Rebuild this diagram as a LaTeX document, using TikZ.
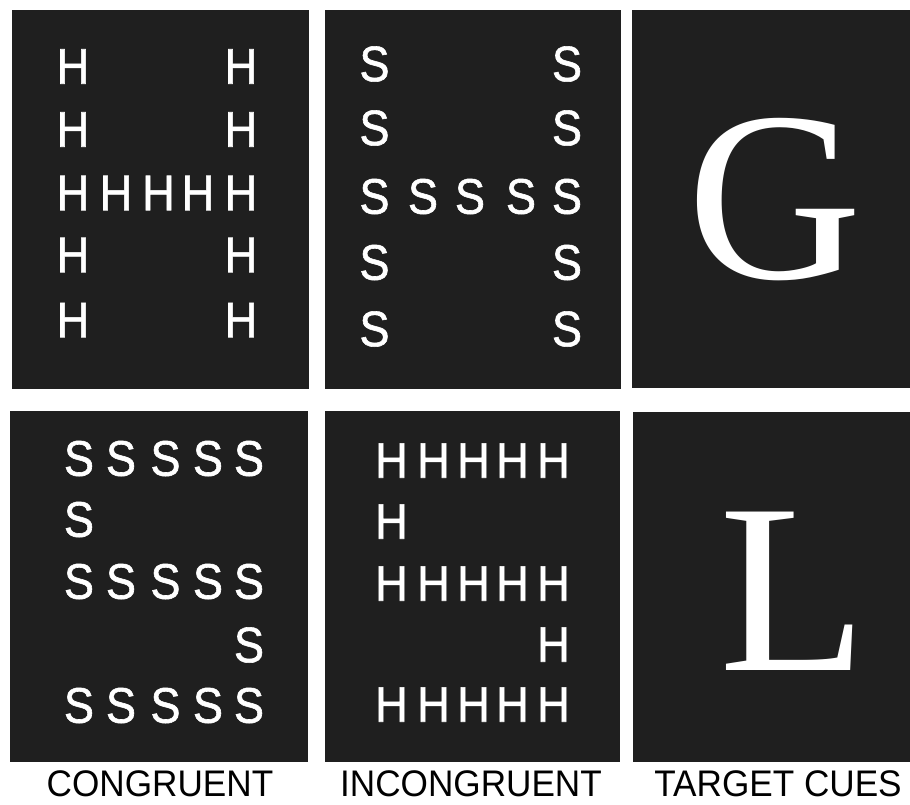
\documentclass[tikz,border=0pt]{standalone}
\usepackage{fontspec}
\setmainfont{Liberation Serif}
\newfontfamily\flankfont[FakeStretch=0.9,FakeBold=1.2]{Liberation Sans}
\newfontfamily\capfont[FakeStretch=0.95]{Liberation Sans}
\definecolor{panel}{HTML}{1F1F1F}
\begin{document}
\begin{tikzpicture}[x=1pt,y=-1pt,
  panelbox/.style={fill=panel,draw=none},
  flank/.style={text=white,font=\flankfont\fontsize{50}{50}\selectfont,inner sep=0pt,anchor=center},
  cue/.style={text=white,font=\fontsize{242}{242}\selectfont,inner sep=0pt,anchor=center},
  caption/.style={text=black,font=\capfont\fontsize{37}{37}\selectfont,inner sep=0pt,anchor=center}]
\useasboundingbox (0,0) rectangle (910,804);
\fill[white] (0,0) rectangle (910,804);
% panels
\fill[panelbox] (12,10) rectangle (309,389);
\fill[panelbox] (325,10) rectangle (621,389);
\fill[panelbox] (632,10) rectangle (910,388);
\fill[panelbox] (10,411) rectangle (308,762);
\fill[panelbox] (325,411) rectangle (620,762);
\fill[panelbox] (633,412) rectangle (910,762);
% congruent H made of H
\foreach \c/\r/\xx/\yy in {
  1/1/73/66.5, 1/2/73/129.5, 1/3/73/193, 1/4/73/255, 1/5/73/320,
  5/1/241/66.5, 5/2/241/129.5, 5/3/241/193, 5/4/241/255, 5/5/241/320,
  2/3/116/193, 3/3/158.5/193, 4/3/198/193}
  \node[flank] (ha-\c-\r) at (\xx,\yy) {H};
% incongruent H made of S
\foreach \c/\r/\xx/\yy in {
  1/1/374.5/64, 1/2/374.5/128, 1/3/374.5/196.5, 1/4/374.5/262.5, 1/5/374.5/329,
  5/1/567/64, 5/2/567/128, 5/3/567/196.5, 5/4/567/262.5, 5/5/567/329,
  2/3/423/196.5, 3/3/470/196.5, 4/3/521/196.5}
  \node[flank] (hs-\c-\r) at (\xx,\yy) {S};
% congruent S made of S
\foreach \c/\r/\xx/\yy in {
  1/1/79/458.5, 2/1/121/458.5, 3/1/165.5/458.5, 4/1/208/458.5, 5/1/249/458.5,
  1/2/79/519.5,
  1/3/79/581.5, 2/3/121/581.5, 3/3/165.5/581.5, 4/3/208/581.5, 5/3/249/581.5,
  5/4/249/645,
  1/5/79/705.5, 2/5/121/705.5, 3/5/165.5/705.5, 4/5/208/705.5, 5/5/249/705.5}
  \node[flank] (ss-\c-\r) at (\xx,\yy) {S};
% incongruent S made of H
\foreach \c/\r/\xx/\yy in {
  1/1/391.5/460.5, 2/1/433.5/460.5, 3/1/473.5/460.5, 4/1/512.5/460.5, 5/1/553.5/460.5,
  1/2/391.5/521.5,
  1/3/391.5/583.5, 2/3/433.5/583.5, 3/3/473.5/583.5, 4/3/512.5/583.5, 5/3/553.5/583.5,
  5/4/553.5/644.5,
  1/5/391.5/704.5, 2/5/433.5/704.5, 3/5/473.5/704.5, 4/5/512.5/704.5, 5/5/553.5/704.5}
  \node[flank] (sh-\c-\r) at (\xx,\yy) {H};
% target cues
\node[cue] (cueG) at (775,200) {G};
\node[cue] (cueL) at (793,591) {L};
% captions
\node[caption] (capC) at (160,784) {CONGRUENT};
\node[caption] (capI) at (471,784) {INCONGRUENT};
\node[caption] (capT) at (778,784) {TARGET CUES};
\end{tikzpicture}
\end{document}
